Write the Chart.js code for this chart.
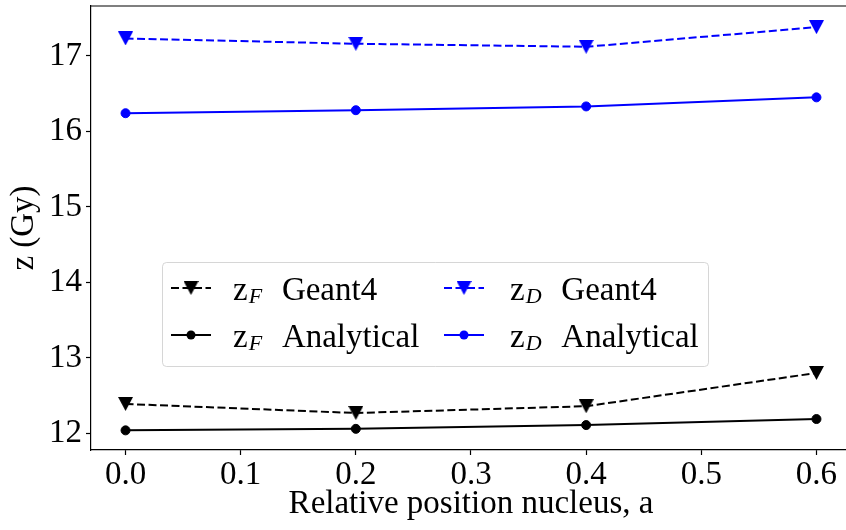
<!DOCTYPE html>
<html>
<head>
<meta charset="utf-8">
<title>z vs relative nucleus position</title>
<script src="https://cdn.jsdelivr.net/npm/chart.js@4.4.1/dist/chart.umd.min.js"></script>
<style>
  html, body { margin: 0; padding: 0; background: #fff; overflow: hidden; }
  #chart { display: block; }
</style>
</head>
<body>
<canvas id="chart" width="852" height="530"></canvas>
<script>
// Relative position of the nucleus, a
const POSITIONS = [0.0, 0.2, 0.4, 0.6];
// Specific energies (Gy)
const ZF_GEANT4 = [12.39, 12.27, 12.36, 12.80];
const ZF_ANALYTICAL = [12.04, 12.06, 12.11, 12.19];
const ZD_GEANT4 = [17.23, 17.16, 17.12, 17.38];
const ZD_ANALYTICAL = [16.24, 16.28, 16.33, 16.45];

// Axes
const X_TICKS = [0.0, 0.1, 0.2, 0.3, 0.4, 0.5, 0.6];
const Y_TICKS = [12, 13, 14, 15, 16, 17];
const X_RANGE = [-0.03, 0.63];
const Y_RANGE = [11.78, 17.66];

const FONT = '"Liberation Serif", "DejaVu Serif", serif';
const FS = 33;
const BLUE = '#0000ff';
const BLACK = '#000000';
const DASH = [8, 3.5];

// matplotlib-style 'v' marker (width == height, centred on its box)
function downTriangle(color) {
  const c = document.createElement('canvas');
  c.width = 15; c.height = 14;
  const g = c.getContext('2d');
  g.fillStyle = color;
  g.beginPath();
  g.moveTo(0, 0); g.lineTo(15, 0); g.lineTo(7.5, 14); g.closePath();
  g.fill();
  return c;
}

const pts = ys => POSITIONS.map((x, i) => ({ x, y: ys[i] }));

function series(label, sub, name, ys, color, dashed) {
  return {
    label, sub, name,
    data: pts(ys),
    borderColor: color,
    backgroundColor: color,
    borderWidth: 2,
    borderDash: dashed ? DASH : [],
    tension: 0,
    pointStyle: dashed ? downTriangle(color) : 'circle',
    pointRadius: dashed ? 7 : 4.5,
    pointBorderWidth: 1,
    pointBorderColor: color,
    pointBackgroundColor: color,
    pointHoverRadius: dashed ? 7 : 4.5
  };
}

const datasets = [
  series('zF Geant4', 'F', 'Geant4', ZF_GEANT4, BLACK, true),
  series('zF Analytical', 'F', 'Analytical', ZF_ANALYTICAL, BLACK, false),
  series('zD Geant4', 'D', 'Geant4', ZD_GEANT4, BLUE, true),
  series('zD Analytical', 'D', 'Analytical', ZD_ANALYTICAL, BLUE, false)
];

// top/right spines (the right one sits just past the visible edge)
const frame = {
  id: 'frame',
  afterDraw(chart) {
    const { ctx, chartArea: a } = chart;
    ctx.save();
    ctx.strokeStyle = BLACK;
    ctx.lineWidth = 1.2;
    ctx.beginPath();
    ctx.moveTo(a.left, a.top); ctx.lineTo(a.right, a.top); ctx.lineTo(a.right, a.bottom);
    ctx.stroke();
    ctx.restore();
  }
};

// legend with subscripted labels, two columns
function drawLabel(ctx, x, y, sub, name) {
  ctx.fillStyle = BLACK;
  ctx.textBaseline = 'alphabetic';
  ctx.textAlign = 'left';
  ctx.font = `${FS}px ${FONT}`;
  ctx.fillText('z', x, y);
  let w = ctx.measureText('z').width + 1;
  ctx.font = `italic ${Math.round(FS * 0.66)}px ${FONT}`;
  ctx.fillText(sub, x + w, y + 3);
  w += ctx.measureText(sub).width + FS * 0.6;
  ctx.font = `${FS}px ${FONT}`;
  ctx.fillText(name, x + w, y);
}

const legendBox = {
  id: 'legendBox',
  afterDraw(chart) {
    const { ctx } = chart;
    const box = { x: 162, y: 262, w: 546, h: 104, r: 4 };
    const cols = [{ hx: 171, tx: 233 }, { hx: 444, tx: 510 }];
    const rows = [288, 335];
    const handleLen = 40;

    ctx.save();
    ctx.beginPath();
    ctx.roundRect(box.x + 0.5, box.y + 0.5, box.w, box.h, box.r);
    ctx.fillStyle = 'rgba(255,255,255,0.8)';
    ctx.fill();
    ctx.strokeStyle = 'rgba(204,204,204,0.8)';
    ctx.lineWidth = 1;
    ctx.stroke();

    // column-major order, like matplotlib
    datasets.forEach((ds, i) => {
      const col = cols[Math.floor(i / 2)];
      const cy = rows[i % 2];
      ctx.strokeStyle = ds.borderColor;
      ctx.lineWidth = ds.borderWidth;
      ctx.setLineDash(ds.borderDash);
      ctx.beginPath();
      ctx.moveTo(col.hx, cy);
      ctx.lineTo(col.hx + handleLen, cy);
      ctx.stroke();
      ctx.setLineDash([]);
      const mx = col.hx + handleLen / 2;
      if (ds.pointStyle === 'circle') {
        ctx.fillStyle = ds.borderColor;
        ctx.beginPath();
        ctx.arc(mx, cy, 4.5, 0, Math.PI * 2);
        ctx.fill();
      } else {
        const img = ds.pointStyle;
        ctx.drawImage(img, mx - img.width / 2, cy - img.height / 2);
      }
      drawLabel(ctx, col.tx, cy + 12, ds.sub, ds.name);
    });
    ctx.restore();
  }
};

const tickFont = { family: FONT, size: FS };

new Chart(document.getElementById('chart'), {
  type: 'line',
  data: { datasets },
  options: {
    responsive: false,
    animation: false,
    devicePixelRatio: 1,
    layout: { autoPadding: false, padding: { top: 6, right: 1, left: 0, bottom: 0 } },
    plugins: { legend: { display: false }, tooltip: { enabled: false } },
    scales: {
      x: {
        type: 'linear',
        min: X_RANGE[0],
        max: X_RANGE[1],
        afterBuildTicks: s => { s.ticks = X_TICKS.map(v => ({ value: v })); },
        afterFit: s => { s.height = 80; s.paddingLeft = 0; s.paddingRight = 0; },
        ticks: { color: BLACK, font: tickFont, padding: 1, maxRotation: 0,
                 callback: v => Number(v).toFixed(1) },
        grid: { display: true, drawOnChartArea: false, drawTicks: true,
                tickLength: 5, tickColor: BLACK, tickWidth: 1.2 },
        border: { display: true, color: BLACK, width: 1.2 },
        title: { display: true, text: 'Relative position nucleus, a', color: BLACK,
                 font: { family: FONT, size: FS }, padding: { top: 0, bottom: 6 } }
      },
      y: {
        type: 'linear',
        min: Y_RANGE[0],
        max: Y_RANGE[1],
        afterBuildTicks: s => { s.ticks = Y_TICKS.map(v => ({ value: v })); },
        afterFit: s => { s.width = 91; s.paddingTop = 0; s.paddingBottom = 0; },
        ticks: { color: BLACK, font: tickFont, padding: 4,
                 callback: v => String(v) },
        grid: { display: true, drawOnChartArea: false, drawTicks: true,
                tickLength: 5, tickColor: BLACK, tickWidth: 1.2 },
        border: { display: true, color: BLACK, width: 1.2 },
        title: { display: true, text: 'z (Gy)', color: BLACK,
                 font: { family: FONT, size: FS }, padding: { top: 5, bottom: 0 } }
      }
    }
  },
  plugins: [frame, legendBox]
});
</script>
</body>
</html>
